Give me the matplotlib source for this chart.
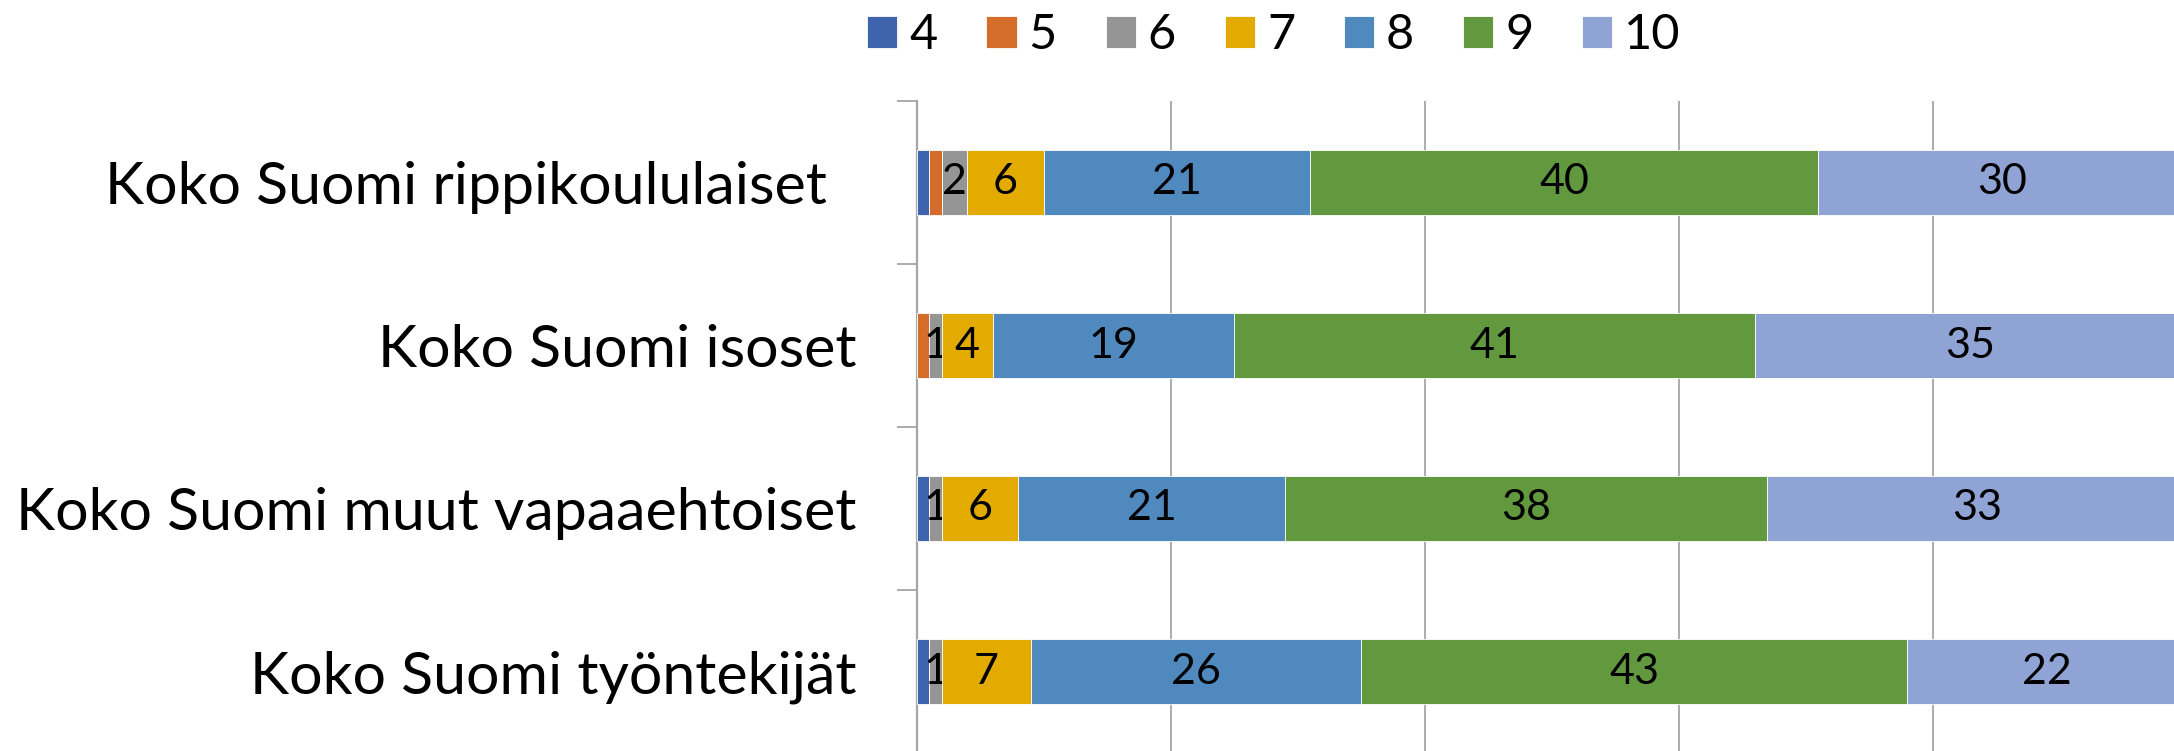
import matplotlib
matplotlib.use("Agg")
import matplotlib.pyplot as plt
import numpy as np

plt.rcParams["font.family"] = ["Lato", "DejaVu Sans"]

categories = [
    "Koko Suomi rippikoululaiset  ",
    "Koko Suomi isoset",
    "Koko Suomi muut vapaaehtoiset",
    "Koko Suomi työntekijät",
]
series = ["4", "5", "6", "7", "8", "9", "10"]
values = {
    "4": [1, 0, 1, 1],
    "5": [1, 1, 0, 0],
    "6": [2, 1, 1, 1],
    "7": [6, 4, 6, 7],
    "8": [21, 19, 21, 26],
    "9": [40, 41, 38, 43],
    "10": [30, 35, 33, 22],
}
labelled = ["6", "7", "8", "9", "10"]
colors = {
    "4": "#3d64ad",
    "5": "#d46c2a",
    "6": "#959595",
    "7": "#e3ab00",
    "8": "#4f89bd",
    "9": "#62993e",
    "10": "#8fa4d4",
}

W, H = 2174, 751
fig = plt.figure(figsize=(W / 100, H / 100), dpi=100)
# plot area runs past the right edge of the picture, as in the original
ax = fig.add_axes([916.5 / W, 1 - 753 / H, 1270 / W, 652 / H])

y = np.arange(len(categories))
left = np.zeros(len(categories))
for s in series:
    v = np.array(values[s], dtype=float)
    bars = ax.barh(y, v, left=left, height=0.4, color=colors[s],
                   edgecolor="white", linewidth=0.6, label=s, zorder=3)
    if s in labelled:
        ax.bar_label(bars, labels=[f"{int(x)}" if x > 0 else "" for x in v],
                     label_type="center", fontsize=31, color="black")
    left += v

ax.set_xlim(0, 100)
ax.set_ylim(len(categories) - 0.5, -0.5)

ax.set_xticks([0, 20, 40, 60, 80, 100])
ax.tick_params(axis="x", length=0, labelbottom=False)
ax.grid(axis="x", color="#a6a6a6", lw=1.3, zorder=0)

# category boundaries get the tick marks, labels sit on minor ticks
ax.set_yticks(np.arange(len(categories) + 1) - 0.5)
ax.set_yticklabels([])
ax.tick_params(axis="y", which="major", length=14.4, width=1.3, color="#a6a6a6")
ax.set_yticks(y, minor=True)
ax.set_yticklabels(categories, minor=True, fontsize=42.5)
ax.tick_params(axis="y", which="minor", length=0, pad=43)

for side in ["top", "right", "bottom"]:
    ax.spines[side].set_visible(False)
ax.spines["left"].set_color("#a6a6a6")
ax.spines["left"].set_linewidth(1.6)

handles, labels = ax.get_legend_handles_labels()
fig.legend(handles, labels, ncol=7, loc="center", bbox_to_anchor=(1274 / W, 1 - 35 / H),
           frameon=False, fontsize=35, handlelength=0.62, handleheight=0.62,
           handletextpad=0.25, columnspacing=1.0, borderaxespad=0)

fig.savefig("out.png", dpi=100)
